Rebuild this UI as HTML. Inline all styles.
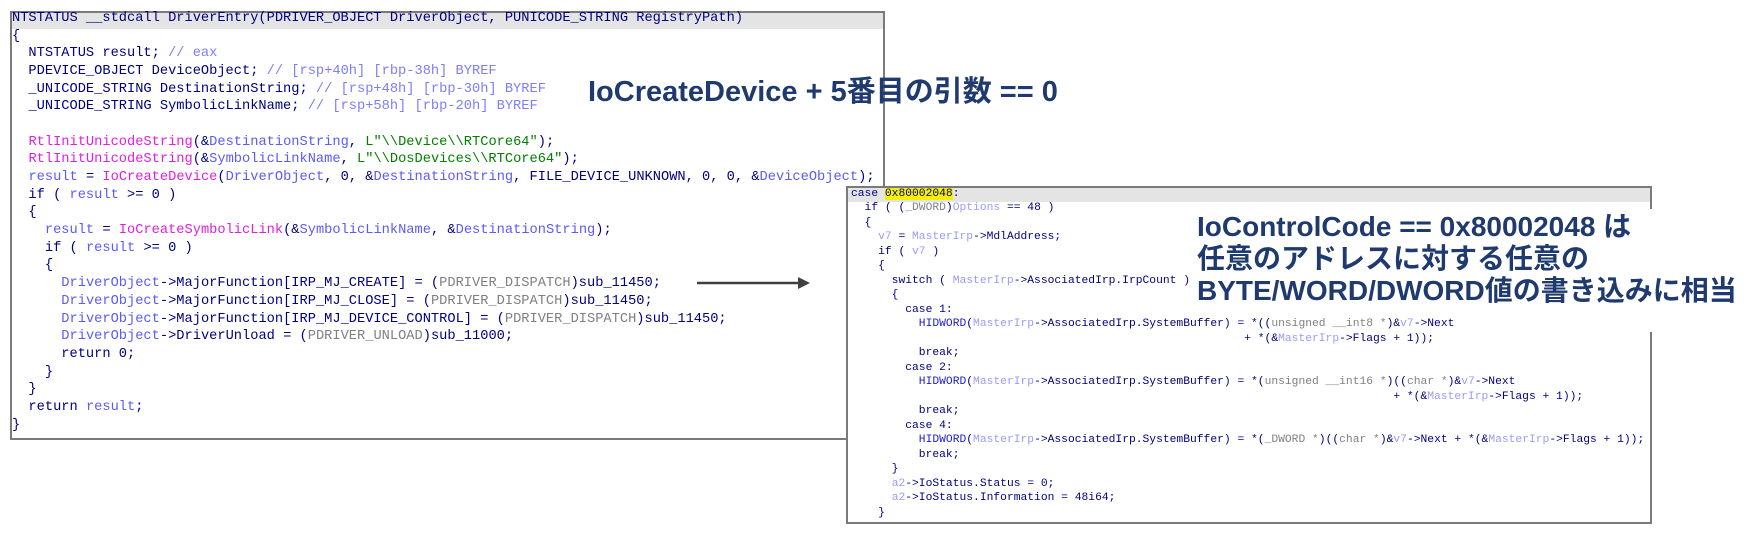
<!DOCTYPE html>
<html><head><meta charset="utf-8"><style>
body{margin:0;width:1747px;height:541px;background:#fff;position:relative;overflow:hidden}
.box{position:absolute;border:2px solid #7a7a7a;background:#fff;box-sizing:border-box}
.hd{position:absolute;left:0;right:0;top:0;background:#e4e4e4}
.l{position:absolute;white-space:pre;font-family:"Liberation Mono",monospace;color:#000080}
.L .l{font-size:13.7px;line-height:18px}
.R .l{font-size:11.3px;line-height:14px}
.v{color:#5a5aff}.c{color:#7d7dff}.f{color:#e020e0}.s{color:#008000}.t{color:#808080}.m{color:#9a9aff}.h{color:#2020d0}.y{background:#f5f000}
.ann{position:absolute;font-family:"Liberation Sans","Noto Sans CJK JP",sans-serif;font-weight:bold;color:#1f3a6e;white-space:pre}
</style></head><body>
<div class="box L" style="left:10px;top:11px;width:875px;height:429px">
<div class="hd" style="height:16px"></div>
</div>
<div class="L" style="position:absolute;left:0;top:0">
<div class="l" style="left:12px;top:10px">NTSTATUS __stdcall DriverEntry(PDRIVER_OBJECT DriverObject, PUNICODE_STRING RegistryPath)</div>
<div class="l" style="left:12px;top:28px">{</div>
<div class="l" style="left:12px;top:45px">  NTSTATUS result; <span class="c">// eax</span></div>
<div class="l" style="left:12px;top:63px">  PDEVICE_OBJECT DeviceObject; <span class="c">// [rsp+40h] [rbp-38h] BYREF</span></div>
<div class="l" style="left:12px;top:81px">  _UNICODE_STRING DestinationString; <span class="c">// [rsp+48h] [rbp-30h] BYREF</span></div>
<div class="l" style="left:12px;top:98px">  _UNICODE_STRING SymbolicLinkName; <span class="c">// [rsp+58h] [rbp-20h] BYREF</span></div>
<div class="l" style="left:12px;top:134px">  <span class="f">RtlInitUnicodeString</span>(&amp;<span class="v">DestinationString</span>, <span class="s">L"\\Device\\RTCore64"</span>);</div>
<div class="l" style="left:12px;top:151px">  <span class="f">RtlInitUnicodeString</span>(&amp;<span class="v">SymbolicLinkName</span>, <span class="s">L"\\DosDevices\\RTCore64"</span>);</div>
<div class="l" style="left:12px;top:169px">  <span class="v">result</span> = <span class="f">IoCreateDevice</span>(<span class="v">DriverObject</span>, 0, &amp;<span class="v">DestinationString</span>, FILE_DEVICE_UNKNOWN, 0, 0, &amp;<span class="v">DeviceObject</span>);</div>
<div class="l" style="left:12px;top:187px">  if ( <span class="v">result</span> &gt;= 0 )</div>
<div class="l" style="left:12px;top:204px">  {</div>
<div class="l" style="left:12px;top:222px">    <span class="v">result</span> = <span class="f">IoCreateSymbolicLink</span>(&amp;<span class="v">SymbolicLinkName</span>, &amp;<span class="v">DestinationString</span>);</div>
<div class="l" style="left:12px;top:240px">    if ( <span class="v">result</span> &gt;= 0 )</div>
<div class="l" style="left:12px;top:257px">    {</div>
<div class="l" style="left:12px;top:275px">      <span class="v">DriverObject</span>-&gt;MajorFunction[IRP_MJ_CREATE] = (<span class="t">PDRIVER_DISPATCH</span>)sub_11450;</div>
<div class="l" style="left:12px;top:293px">      <span class="v">DriverObject</span>-&gt;MajorFunction[IRP_MJ_CLOSE] = (<span class="t">PDRIVER_DISPATCH</span>)sub_11450;</div>
<div class="l" style="left:12px;top:311px">      <span class="v">DriverObject</span>-&gt;MajorFunction[IRP_MJ_DEVICE_CONTROL] = (<span class="t">PDRIVER_DISPATCH</span>)sub_11450;</div>
<div class="l" style="left:12px;top:328px">      <span class="v">DriverObject</span>-&gt;DriverUnload = (<span class="t">PDRIVER_UNLOAD</span>)sub_11000;</div>
<div class="l" style="left:12px;top:346px">      return 0;</div>
<div class="l" style="left:12px;top:364px">    }</div>
<div class="l" style="left:12px;top:381px">  }</div>
<div class="l" style="left:12px;top:399px">  return <span class="v">result</span>;</div>
<div class="l" style="left:12px;top:417px">}</div>
</div>
<div class="ann" style="left:588px;top:73px;font-size:29px;line-height:38px">IoCreateDevice + 5番目の引数 == 0</div>
<svg style="position:absolute;left:0;top:0" width="1747" height="541"><line x1="697" y1="283" x2="800" y2="283" stroke="#404040" stroke-width="2.5"/><polygon points="798,277 810,283 798,289" fill="#404040"/></svg>
<div class="box R" style="left:846px;top:186px;width:806px;height:338px">
<div class="hd" style="height:14px"></div>
</div>
<div class="R" style="position:absolute;left:0;top:0">
<div class="l" style="left:851px;top:187px">case <span class="y">0x80002048</span>:</div>
<div class="l" style="left:851px;top:201px">  if ( (<span class="t">_DWORD</span>)<span class="m">Options</span> == 48 )</div>
<div class="l" style="left:851px;top:216px">  {</div>
<div class="l" style="left:851px;top:230px">    <span class="m">v7</span> = <span class="m">MasterIrp</span>-&gt;MdlAddress;</div>
<div class="l" style="left:851px;top:245px">    if ( <span class="m">v7</span> )</div>
<div class="l" style="left:851px;top:259px">    {</div>
<div class="l" style="left:851px;top:274px">      switch ( <span class="m">MasterIrp</span>-&gt;AssociatedIrp.IrpCount )</div>
<div class="l" style="left:851px;top:288px">      {</div>
<div class="l" style="left:851px;top:303px">        case 1:</div>
</div>
<div style="position:absolute;left:1190px;top:209px;width:470px;height:108px;background:#fff"></div>
<div style="position:absolute;left:1640px;top:209px;width:20px;height:123px;background:#fff"></div>
<div class="R" style="position:absolute;left:0;top:0">
<div class="l" style="left:851px;top:317px">          <span class="h">HIDWORD</span>(<span class="m">MasterIrp</span>-&gt;AssociatedIrp.SystemBuffer) = *((<span class="t">unsigned __int8 *</span>)&amp;<span class="m">v7</span>-&gt;Next</div>
<div class="l" style="left:851px;top:332px">                                                          + *(&amp;<span class="m">MasterIrp</span>-&gt;Flags + 1));</div>
<div class="l" style="left:851px;top:346px">          break;</div>
<div class="l" style="left:851px;top:361px">        case 2:</div>
<div class="l" style="left:851px;top:375px">          <span class="h">HIDWORD</span>(<span class="m">MasterIrp</span>-&gt;AssociatedIrp.SystemBuffer) = *(<span class="t">unsigned __int16 *</span>)((<span class="t">char *</span>)&amp;<span class="m">v7</span>-&gt;Next</div>
<div class="l" style="left:851px;top:390px">                                                                                + *(&amp;<span class="m">MasterIrp</span>-&gt;Flags + 1));</div>
<div class="l" style="left:851px;top:404px">          break;</div>
<div class="l" style="left:851px;top:419px">        case 4:</div>
<div class="l" style="left:851px;top:433px">          <span class="h">HIDWORD</span>(<span class="m">MasterIrp</span>-&gt;AssociatedIrp.SystemBuffer) = *(<span class="t">_DWORD *</span>)((<span class="t">char *</span>)&amp;<span class="m">v7</span>-&gt;Next + *(&amp;<span class="m">MasterIrp</span>-&gt;Flags + 1));</div>
<div class="l" style="left:851px;top:448px">          break;</div>
<div class="l" style="left:851px;top:462px">      }</div>
<div class="l" style="left:851px;top:477px">      <span class="m">a2</span>-&gt;IoStatus.Status = 0;</div>
<div class="l" style="left:851px;top:491px">      <span class="m">a2</span>-&gt;IoStatus.Information = 48i64;</div>
<div class="l" style="left:851px;top:506px">    }</div>
</div>
<div class="ann" style="left:1197px;top:211px;font-size:28px;line-height:32px">IoControlCode == 0x80002048 は
任意のアドレスに対する任意の
BYTE/WORD/DWORD値の書き込みに相当</div>
</body></html>
